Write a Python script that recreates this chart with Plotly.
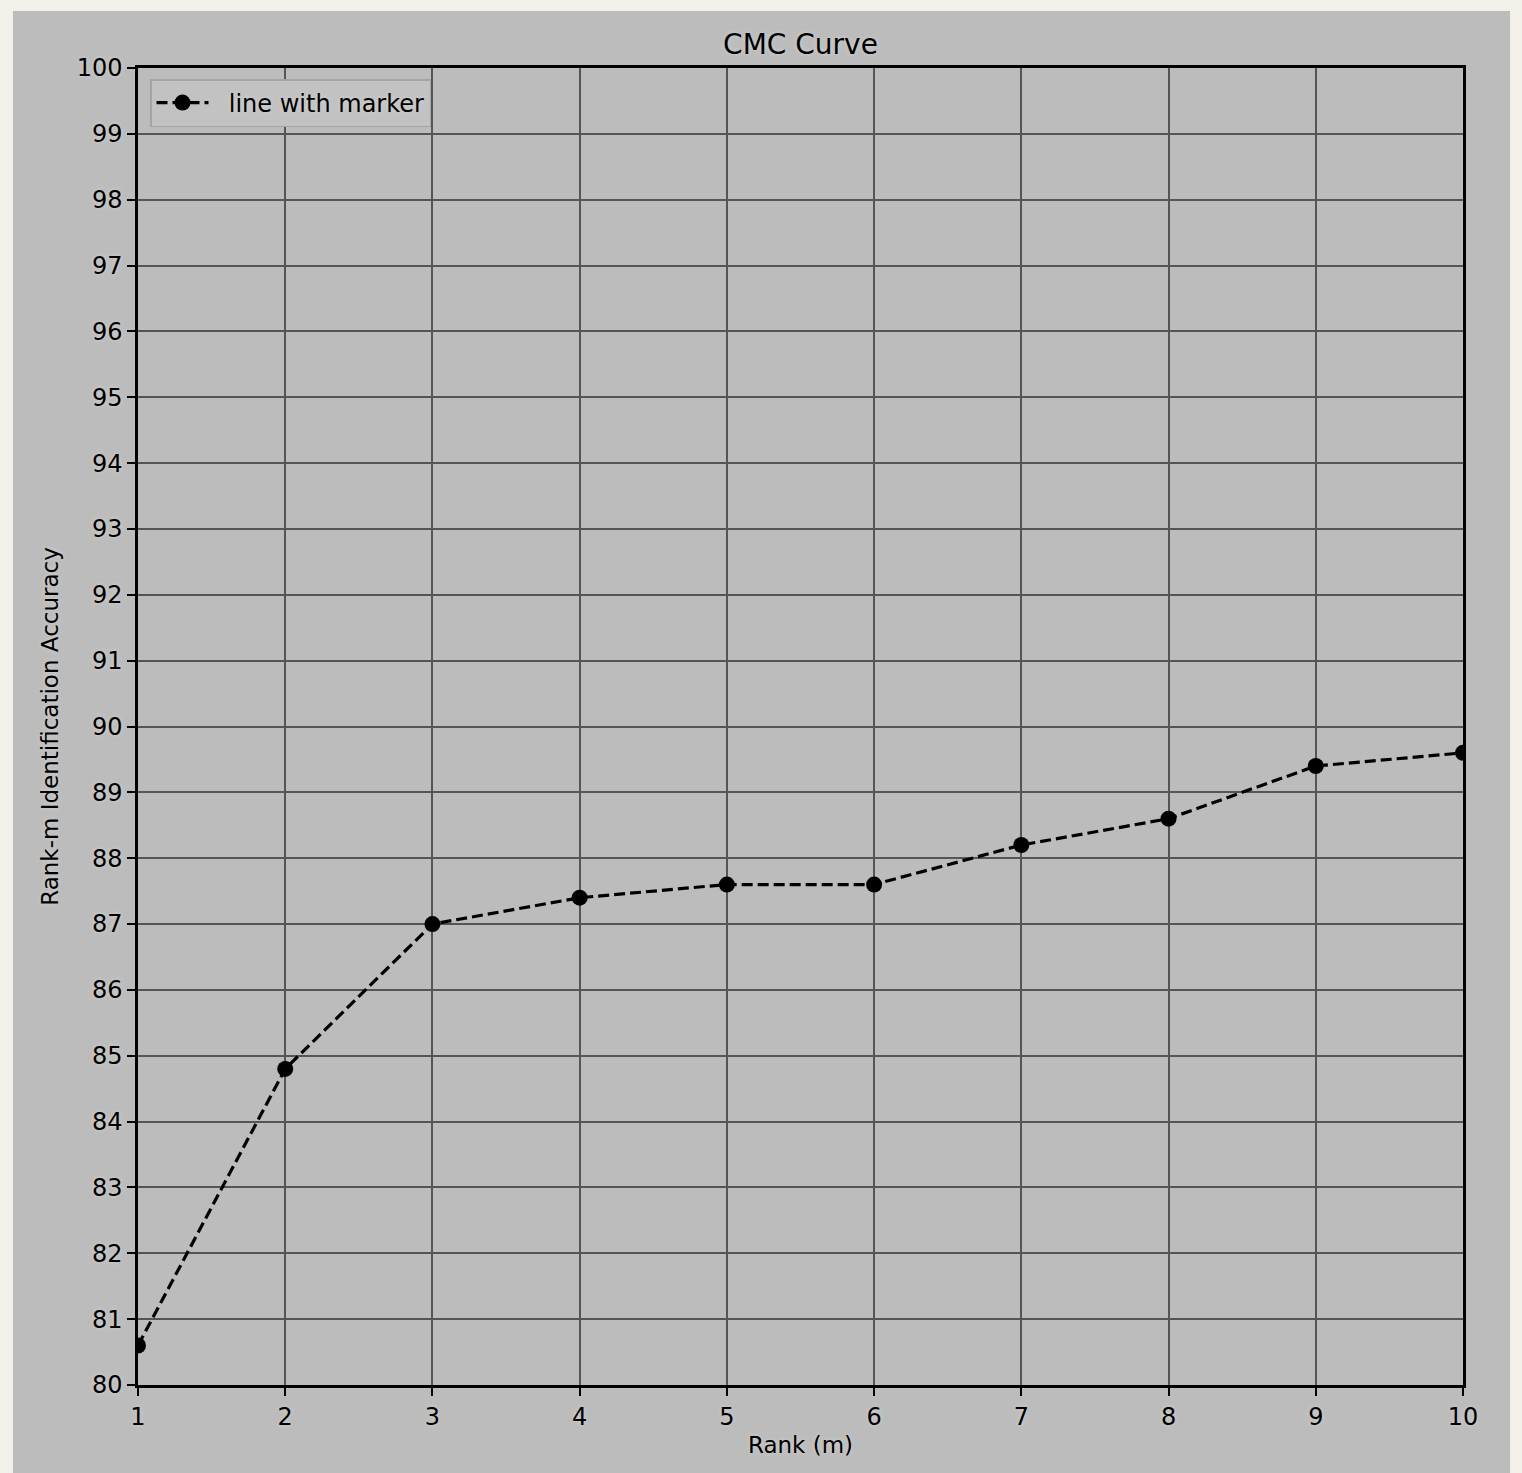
import plotly.graph_objects as go

# CMC curve values
ranks = [1, 2, 3, 4, 5, 6, 7, 8, 9, 10]
accuracy = [80.6, 84.8, 87.0, 87.4, 87.6, 87.6, 88.2, 88.6, 89.4, 89.6]
y_ticks = list(range(80, 101))

W, H = 1522, 1473
ML, MR, MT, MB = 138, 59, 68, 88
PW, PH = W - ML - MR, H - MT - MB

FONT = "DejaVu Sans"
GLOW = "0 0 4px #d4d4d4"
FIG_BG = "#bcbcbc"


def px_x(px):
    return (px - ML) / PW


def px_y(py):
    return (H - MB - py) / PH


fig = go.Figure()
fig.add_trace(go.Scatter(
    x=ranks, y=accuracy, mode="lines+markers",
    name="\u00a0\u00a0line with marker",
    line=dict(color="black", width=3.2, dash="11px,5px"),
    marker=dict(color="black", size=16, symbol="circle"),
))

# gray figure panel sitting on the paper background
fig.add_shape(type="rect", xref="paper", yref="paper",
              x0=px_x(13), x1=px_x(1510), y0=px_y(1500), y1=px_y(11),
              fillcolor=FIG_BG, line=dict(width=0), layer="below")

axis_common = dict(
    showline=True, linecolor="black", linewidth=2.5, mirror=True,
    ticks="outside", ticklen=8, tickwidth=2, tickcolor="black",
    showgrid=True, gridcolor="#555555", gridwidth=1.6,
    zeroline=False,
    tickfont=dict(family=FONT, size=24, color="black", shadow=GLOW),
)

fig.update_xaxes(range=[1, 10], tickvals=ranks, ticktext=[str(r) for r in ranks],
                 title=dict(text="Rank (m)", standoff=8,
                            font=dict(family=FONT, size=23, color="black", shadow=GLOW)),
                 **axis_common)
fig.update_yaxes(range=[80, 100], tickvals=y_ticks, ticktext=[str(v) for v in y_ticks],
                 title=dict(text="Rank-m Identification Accuracy", standoff=12,
                            font=dict(family=FONT, size=23, color="black", shadow=GLOW)),
                 **axis_common)

fig.update_layout(
    width=W, height=H,
    margin=dict(l=ML, r=MR, t=MT, b=MB),
    paper_bgcolor="#f3f0ea",
    plot_bgcolor="rgba(0,0,0,0)",
    title=dict(text="CMC Curve", x=0.5, xref="paper", y=1 - 44 / H, yanchor="middle",
               font=dict(family=FONT, size=28, color="black", shadow=GLOW)),
    showlegend=True,
    legend=dict(x=px_x(150), y=px_y(79), xanchor="left", yanchor="top",
                bgcolor="#c2c2c2", bordercolor="#a4a4a4", borderwidth=1.5,
                font=dict(family=FONT, size=24, color="black", shadow=GLOW),
                itemwidth=52),
)

fig.write_html("out.html")
